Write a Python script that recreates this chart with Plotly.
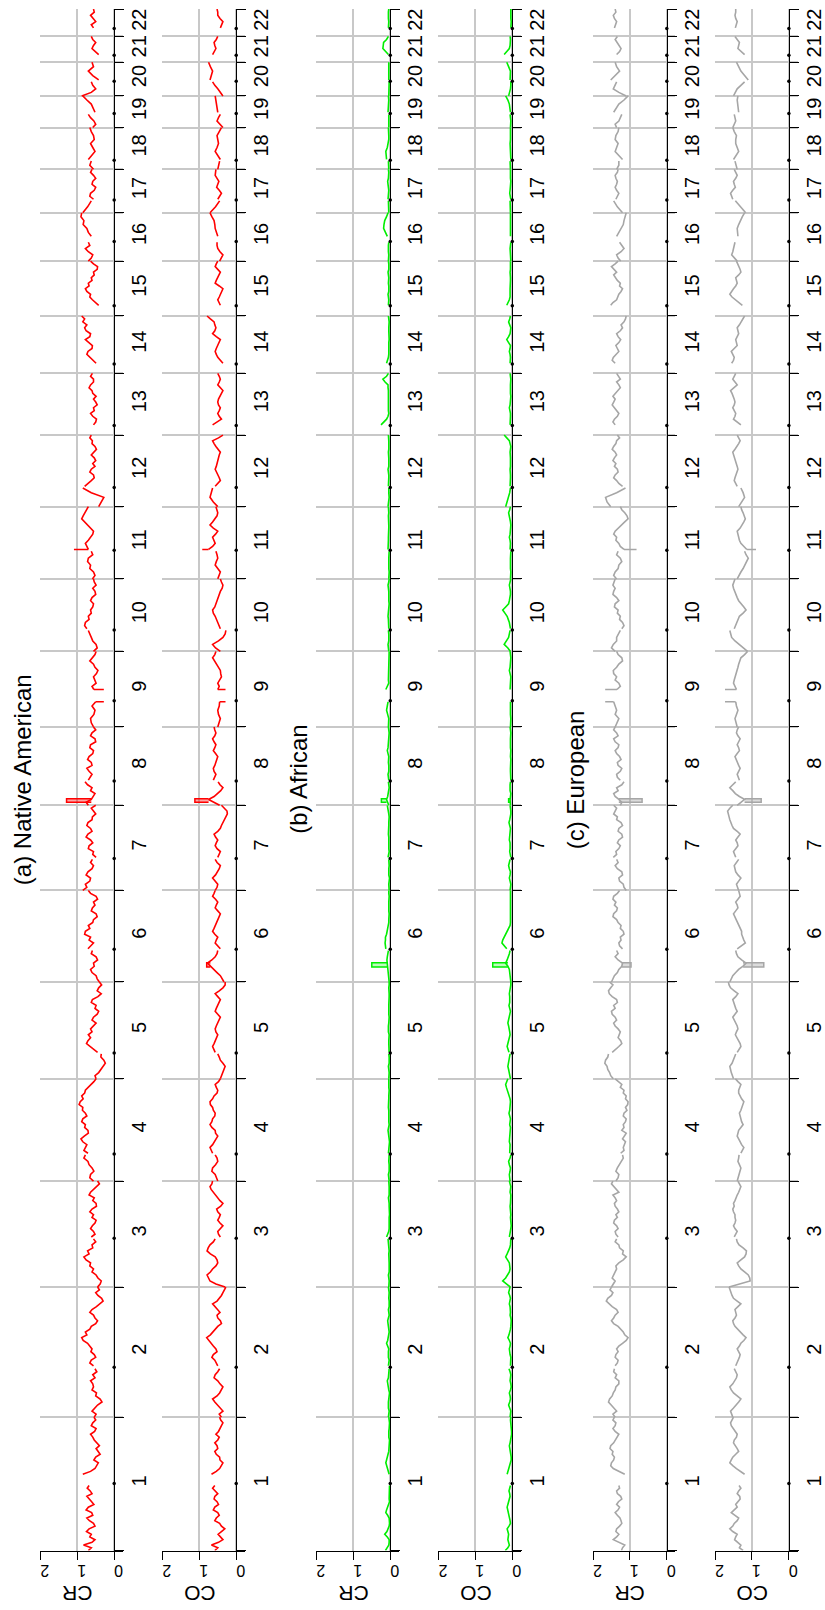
import numpy as np
import plotly.graph_objects as go

# ---------------------------------------------------------------- genome layout (hg19, Mb)
chrom_names = [str(i) for i in range(1, 23)]
chrom_len_mb = [249.25, 243.20, 198.02, 191.15, 180.92, 171.12, 159.14, 146.36, 141.21, 135.53, 135.01,
                133.85, 115.17, 107.35, 102.53, 90.35, 81.20, 78.08, 59.13, 63.03, 48.13, 51.30]
centromere_mb = [125.0, 93.3, 91.0, 50.4, 48.4, 61.0, 59.9, 45.6, 49.0, 40.2, 53.7,
                 35.8, 17.9, 17.6, 19.0, 36.6, 24.0, 17.2, 26.5, 27.5, 13.2, 14.7]
# uncovered stretch around each centromere (acrocentric arms start at gap_end)
gap_start_mb = [121.5, 90.5, 90.0, 49.0, 46.4, 58.8, 58.0, 43.8, 47.0, 39.2, 51.6,
                34.9, 0, 0, 0, 35.3, 22.3, 15.4, 24.6, 26.4, 0, 0]
gap_end_mb = [142.5, 96.0, 93.5, 52.0, 49.4, 62.0, 61.9, 46.9, 70.0, 42.4, 55.0,
              38.0, 19.0, 19.0, 20.0, 46.4, 25.3, 18.5, 28.6, 29.8, 14.3, 16.0]
# number of samples on the short arm of each chromosome
p_arm_points = [25, 17, 17, 9, 9, 11, 11, 9, 7, 7, 9, 5, 0, 0, 0, 7, 3, 3, 5, 5, 0, 0]

# ---------------------------------------------------------------- ancestry dosage per chromosome
na_cr = [
    [0.70, 0.62, 0.83, 0.60, 0.52, 0.66, 0.62, 0.75, 0.68, 0.52, 0.56, 0.67, 0.74, 0.58, 0.61, 0.76, 0.70, 0.55, 0.61, 0.69, 0.74, 0.60, 0.65, 0.73, 0.68,
     0.85, 0.64, 0.52, 0.47, 0.43, 0.55, 0.50, 0.38, 0.43, 0.49, 0.40, 0.48, 0.54, 0.58, 0.64, 0.53, 0.49, 0.62, 0.58, 0.50, 0.55],
    [0.54, 0.49, 0.60, 0.52, 0.45, 0.33, 0.38, 0.50, 0.48, 0.60, 0.56, 0.58, 0.64, 0.52, 0.58, 0.47, 0.52,
     0.56, 0.66, 0.62, 0.50, 0.54, 0.63, 0.60, 0.66, 0.72, 0.84, 0.88, 0.74, 0.78, 0.66, 0.62, 0.50, 0.45, 0.52, 0.56, 0.66, 0.60, 0.48, 0.40, 0.30, 0.34, 0.44, 0.50, 0.40, 0.45],
    [0.45, 0.38, 0.35, 0.44, 0.49, 0.60, 0.56, 0.66, 0.64, 0.76, 0.82, 0.68, 0.72, 0.58, 0.60, 0.50, 0.56,
     0.62, 0.52, 0.56, 0.64, 0.59, 0.52, 0.49, 0.60, 0.56, 0.66, 0.60, 0.48, 0.49, 0.58, 0.54, 0.68, 0.64, 0.55, 0.49, 0.40, 0.45],
    [0.56, 0.66, 0.64, 0.55, 0.60, 0.68, 0.71, 0.82, 0.78,
     0.71, 0.82, 0.78, 0.74, 0.85, 0.90, 0.81, 0.70, 0.71, 0.80, 0.78, 0.88, 0.85, 0.74, 0.78, 0.86, 0.85, 0.95, 0.92, 0.84, 0.88, 0.80, 0.78, 0.70, 0.64, 0.55, 0.49],
    [0.49, 0.52, 0.42, 0.36, 0.31, 0.24, 0.28, 0.36, 0.35,
     0.45, 0.56, 0.64, 0.75, 0.71, 0.64, 0.70, 0.60, 0.64, 0.56, 0.49, 0.60, 0.56, 0.46, 0.42, 0.52, 0.49, 0.62, 0.59, 0.44, 0.35, 0.46, 0.42, 0.34, 0.40],
    [0.40, 0.46, 0.49, 0.60, 0.64, 0.54, 0.56, 0.45, 0.49, 0.62, 0.59,
     0.71, 0.62, 0.56, 0.68, 0.64, 0.80, 0.78, 0.66, 0.70, 0.58, 0.56, 0.46, 0.49, 0.62, 0.59, 0.52, 0.56, 0.45, 0.49, 0.64, 0.70],
    [0.85, 0.74, 0.78, 0.66, 0.64, 0.76, 0.71, 0.60, 0.56, 0.64, 0.59,
     0.49, 0.58, 0.56, 0.70, 0.68, 0.58, 0.64, 0.76, 0.71, 0.60, 0.64, 0.74, 0.71, 0.60, 0.59, 0.50, 0.56, 0.62, 0.50],
    [0.70, 0.76, 0.62, 0.56, 0.52, 0.64, 0.60, 0.72, 0.79,
     0.70, 0.64, 0.60, 0.68, 0.74, 0.60, 0.62, 0.72, 0.68, 0.58, 0.56, 0.66, 0.64, 0.50, 0.52, 0.64, 0.60, 0.50, 0.56],
    [0.56, 0.62, 0.64, 0.55, 0.52, 0.60, 0.50,
     0.55, 0.60, 0.49, 0.52, 0.56, 0.48, 0.44, 0.52, 0.56, 0.66, 0.60, 0.52, 0.49],
    [0.56, 0.46, 0.49, 0.58, 0.62, 0.66, 0.70,
     0.74, 0.80, 0.78, 0.68, 0.70, 0.62, 0.64, 0.58, 0.56, 0.64, 0.60, 0.50, 0.52, 0.58, 0.49, 0.54, 0.56],
    [0.59, 0.52, 0.56, 0.66, 0.64, 0.72, 0.70, 0.58, 0.62,
     0.70, 0.74, 0.78, 0.70, 0.64, 0.58, 0.56, 0.64, 0.70, 0.80, 0.88, 0.84, 0.80, 0.74, 0.70],
    [0.42, 0.36, 0.28, 0.62, 0.85,
     0.80, 0.70, 0.62, 0.54, 0.56, 0.66, 0.62, 0.52, 0.58, 0.50, 0.54, 0.62, 0.56, 0.48, 0.52, 0.60, 0.59, 0.66, 0.62],
    [0.56, 0.50, 0.48, 0.58, 0.64, 0.54, 0.56, 0.46, 0.50, 0.56, 0.49, 0.58, 0.60, 0.68, 0.64, 0.56, 0.56, 0.64, 0.59],
    [0.49, 0.58, 0.64, 0.74, 0.71, 0.60, 0.59, 0.70, 0.78, 0.66, 0.64, 0.76, 0.80, 0.74, 0.85, 0.80, 0.88],
    [0.42, 0.52, 0.59, 0.66, 0.64, 0.74, 0.78, 0.68, 0.70, 0.60, 0.62, 0.54, 0.56, 0.46, 0.45, 0.56, 0.64],
    [0.70, 0.62, 0.58, 0.70, 0.78, 0.66, 0.70, 0.62, 0.70, 0.74, 0.84, 0.82, 0.90, 0.88],
    [0.85, 0.72, 0.62, 0.56, 0.66, 0.64, 0.54, 0.50, 0.60, 0.58, 0.50, 0.56, 0.64, 0.60],
    [0.56, 0.66, 0.62, 0.70, 0.60, 0.52, 0.58, 0.64, 0.54, 0.56, 0.62, 0.66],
    [0.58, 0.50, 0.55, 0.64, 0.70, 0.52, 0.58, 0.62, 0.74, 0.85],
    [0.88, 0.62, 0.50, 0.58, 0.62, 0.42, 0.58, 0.70, 0.56, 0.60],
    [0.42, 0.52, 0.60, 0.56, 0.50, 0.58, 0.62],
    [0.56, 0.62, 0.50, 0.58, 0.64, 0.54, 0.56],
]
na_co = [
    [0.58, 0.50, 0.67, 0.48, 0.36, 0.44, 0.49, 0.40, 0.31, 0.40, 0.45, 0.58, 0.54, 0.46, 0.50, 0.62, 0.58, 0.48, 0.52, 0.60, 0.58, 0.50, 0.56, 0.64, 0.58,
     0.67, 0.54, 0.45, 0.40, 0.36, 0.44, 0.45, 0.54, 0.58, 0.50, 0.52, 0.58, 0.50, 0.46, 0.55, 0.48, 0.43, 0.40, 0.36, 0.42, 0.45],
    [0.40, 0.46, 0.36, 0.44, 0.50, 0.58, 0.64, 0.52, 0.45, 0.40, 0.36, 0.44, 0.50, 0.60, 0.57, 0.50, 0.45,
     0.50, 0.54, 0.58, 0.66, 0.62, 0.52, 0.55, 0.62, 0.68, 0.76, 0.80, 0.70, 0.64, 0.56, 0.50, 0.40, 0.43, 0.50, 0.52, 0.44, 0.50, 0.58, 0.64, 0.52, 0.45, 0.40, 0.36, 0.32, 0.28],
    [0.30, 0.55, 0.71, 0.76, 0.79, 0.70, 0.64, 0.55, 0.50, 0.52, 0.57, 0.70, 0.79, 0.76, 0.71, 0.62, 0.57,
     0.43, 0.48, 0.50, 0.42, 0.36, 0.44, 0.50, 0.46, 0.43, 0.50, 0.53, 0.42, 0.36, 0.44, 0.50, 0.58, 0.64, 0.68, 0.71, 0.66, 0.64],
    [0.50, 0.54, 0.57, 0.66, 0.64, 0.56, 0.50, 0.52, 0.57,
     0.64, 0.68, 0.71, 0.64, 0.60, 0.54, 0.50, 0.56, 0.57, 0.66, 0.71, 0.66, 0.64, 0.58, 0.57, 0.62, 0.64, 0.70, 0.71, 0.64, 0.60, 0.52, 0.50, 0.54, 0.57, 0.48, 0.43],
    [0.43, 0.40, 0.36, 0.32, 0.30, 0.36, 0.43, 0.46, 0.50,
     0.57, 0.60, 0.64, 0.60, 0.57, 0.52, 0.50, 0.55, 0.57, 0.54, 0.50, 0.46, 0.43, 0.50, 0.57, 0.54, 0.50, 0.46, 0.43, 0.50, 0.57, 0.46, 0.36, 0.30, 0.30],
    [0.33, 0.38, 0.43, 0.52, 0.60, 0.70, 0.78, 0.66, 0.57, 0.52, 0.50,
     0.43, 0.50, 0.57, 0.54, 0.50, 0.58, 0.64, 0.60, 0.57, 0.52, 0.50, 0.46, 0.43, 0.50, 0.57, 0.54, 0.50, 0.56, 0.64, 0.60, 0.57],
    [0.57, 0.52, 0.50, 0.58, 0.64, 0.56, 0.50, 0.46, 0.43, 0.52, 0.57,
     0.50, 0.46, 0.43, 0.52, 0.57, 0.54, 0.50, 0.56, 0.60, 0.50, 0.43, 0.40, 0.36, 0.32, 0.29, 0.24, 0.25, 0.32, 0.40],
    [0.45, 0.62, 0.75, 0.60, 0.50, 0.42, 0.36, 0.44, 0.49,
     0.62, 0.58, 0.55, 0.60, 0.62, 0.58, 0.56, 0.52, 0.50, 0.56, 0.62, 0.58, 0.55, 0.60, 0.64, 0.58, 0.55, 0.58, 0.60],
    [0.50, 0.46, 0.43, 0.48, 0.50, 0.46, 0.45,
     0.50, 0.46, 0.50, 0.44, 0.40, 0.42, 0.43, 0.48, 0.53, 0.60, 0.64, 0.58, 0.55],
    [0.43, 0.56, 0.64, 0.48, 0.36, 0.30, 0.28,
     0.43, 0.46, 0.50, 0.54, 0.57, 0.62, 0.64, 0.58, 0.55, 0.52, 0.50, 0.46, 0.43, 0.38, 0.36, 0.40, 0.43],
    [0.50, 0.46, 0.43, 0.50, 0.57, 0.54, 0.50, 0.52, 0.55,
     0.75, 0.64, 0.57, 0.60, 0.64, 0.56, 0.50, 0.62, 0.71, 0.64, 0.57, 0.52, 0.50, 0.52, 0.55],
    [0.50, 0.62, 0.71, 0.68, 0.64,
     0.57, 0.50, 0.43, 0.46, 0.50, 0.54, 0.57, 0.54, 0.52, 0.50, 0.50, 0.46, 0.43, 0.50, 0.55, 0.60, 0.64, 0.48, 0.36],
    [0.64, 0.50, 0.40, 0.46, 0.50, 0.46, 0.43, 0.48, 0.50, 0.48, 0.45, 0.40, 0.36, 0.44, 0.50, 0.46, 0.43, 0.46, 0.50],
    [0.36, 0.44, 0.50, 0.54, 0.57, 0.54, 0.50, 0.46, 0.43, 0.54, 0.64, 0.58, 0.55, 0.58, 0.60, 0.70, 0.79],
    [0.43, 0.46, 0.50, 0.46, 0.43, 0.40, 0.36, 0.46, 0.57, 0.54, 0.50, 0.46, 0.43, 0.50, 0.57, 0.54, 0.50],
    [0.45, 0.40, 0.36, 0.44, 0.50, 0.52, 0.52, 0.50, 0.54, 0.57, 0.58, 0.60, 0.66, 0.71],
    [0.71, 0.56, 0.45, 0.50, 0.44, 0.40, 0.46, 0.53, 0.50, 0.47, 0.52, 0.57, 0.56, 0.55],
    [0.50, 0.48, 0.45, 0.43, 0.50, 0.57, 0.52, 0.48, 0.50, 0.52, 0.46, 0.40],
    [0.36, 0.44, 0.52, 0.48, 0.43, 0.50, 0.52, 0.55, 0.56, 0.57],
    [0.36, 0.42, 0.50, 0.58, 0.64, 0.71, 0.68, 0.64, 0.70, 0.75],
    [0.64, 0.60, 0.55, 0.58, 0.60, 0.54, 0.50],
    [0.43, 0.40, 0.36, 0.44, 0.50, 0.50, 0.52],
]
af_cr = [
    [0.13, 0.08, 0.04, 0.03, 0.03, 0.08, 0.15, 0.09, 0.05, 0.03, 0.02, 0.03, 0.03, 0.07, 0.12, 0.10, 0.08, 0.04, 0.02, 0.03, 0.03, 0.02, 0.02, 0.03, 0.02,
     0.03, 0.05, 0.07, 0.10, 0.12, 0.10, 0.09, 0.06, 0.04, 0.03, 0.03, 0.02, 0.02, 0.04, 0.05, 0.04, 0.03, 0.02, 0.02, 0.03, 0.04],
    [0.05, 0.04, 0.03, 0.05, 0.06, 0.05, 0.04, 0.03, 0.02, 0.04, 0.05, 0.07, 0.08, 0.05, 0.04, 0.03, 0.03,
     0.05, 0.04, 0.03, 0.05, 0.06, 0.05, 0.04, 0.07, 0.10, 0.07, 0.05, 0.04, 0.03, 0.04, 0.04, 0.06, 0.07, 0.05, 0.03, 0.04, 0.05, 0.03, 0.02, 0.03, 0.04, 0.03, 0.03, 0.04, 0.05],
    [0.04, 0.03, 0.03, 0.04, 0.05, 0.03, 0.02, 0.03, 0.03, 0.04, 0.05, 0.04, 0.03, 0.04, 0.04, 0.05, 0.06,
     0.10, 0.06, 0.04, 0.03, 0.03, 0.04, 0.05, 0.03, 0.02, 0.03, 0.04, 0.03, 0.03, 0.04, 0.05, 0.03, 0.02, 0.03, 0.03, 0.04, 0.04],
    [0.03, 0.04, 0.05, 0.03, 0.02, 0.03, 0.04, 0.03, 0.03,
     0.05, 0.04, 0.04, 0.03, 0.02, 0.03, 0.03, 0.05, 0.06, 0.04, 0.03, 0.04, 0.04, 0.03, 0.02, 0.04, 0.05, 0.04, 0.03, 0.04, 0.04, 0.03, 0.03, 0.04, 0.05, 0.04, 0.04],
    [0.04, 0.03, 0.03, 0.04, 0.05, 0.03, 0.02, 0.03, 0.04,
     0.03, 0.04, 0.05, 0.04, 0.04, 0.03, 0.03, 0.05, 0.06, 0.05, 0.04, 0.03, 0.03, 0.04, 0.05, 0.04, 0.04, 0.03, 0.02, 0.03, 0.03, 0.04, 0.04, 0.03, 0.03],
    [0.03, 0.04, 0.04, 0.05, 0.06, 0.08, 0.10, 0.09, 0.08, 0.06, 0.05,
     0.12, 0.14, 0.14, 0.13, 0.13, 0.10, 0.08, 0.06, 0.05, 0.04, 0.04, 0.03, 0.03, 0.04, 0.05, 0.04, 0.04, 0.03, 0.03, 0.04, 0.04],
    [0.03, 0.04, 0.04, 0.03, 0.02, 0.04, 0.05, 0.04, 0.03, 0.04, 0.04,
     0.06, 0.04, 0.03, 0.04, 0.04, 0.03, 0.02, 0.04, 0.05, 0.04, 0.03, 0.04, 0.04, 0.03, 0.03, 0.04, 0.05, 0.07, 0.08],
    [0.04, 0.07, 0.10, 0.07, 0.05, 0.04, 0.03, 0.04, 0.05,
     0.04, 0.05, 0.06, 0.04, 0.03, 0.04, 0.05, 0.04, 0.04, 0.06, 0.08, 0.06, 0.05, 0.04, 0.04, 0.03, 0.03, 0.04, 0.05],
    [0.05, 0.04, 0.04, 0.07, 0.10, 0.08, 0.06,
     0.12, 0.07, 0.04, 0.05, 0.05, 0.04, 0.03, 0.04, 0.04, 0.05, 0.05, 0.04, 0.03],
    [0.04, 0.05, 0.06, 0.04, 0.03, 0.04, 0.05,
     0.04, 0.04, 0.03, 0.05, 0.06, 0.05, 0.04, 0.03, 0.03, 0.04, 0.05, 0.04, 0.04, 0.05, 0.06, 0.04, 0.03],
    [0.04, 0.03, 0.03, 0.04, 0.05, 0.04, 0.04, 0.03, 0.03,
     0.06, 0.05, 0.04, 0.05, 0.05, 0.04, 0.03, 0.04, 0.04, 0.05, 0.06, 0.05, 0.04, 0.05, 0.05],
    [0.06, 0.04, 0.03, 0.04, 0.04,
     0.05, 0.04, 0.03, 0.04, 0.04, 0.05, 0.06, 0.04, 0.03, 0.04, 0.04, 0.05, 0.05, 0.04, 0.03, 0.04, 0.04, 0.05, 0.05],
    [0.25, 0.18, 0.10, 0.06, 0.04, 0.05, 0.05, 0.04, 0.03, 0.04, 0.04, 0.05, 0.05, 0.06, 0.06, 0.14, 0.20, 0.10, 0.05],
    [0.10, 0.07, 0.05, 0.04, 0.04, 0.05, 0.06, 0.04, 0.03, 0.04, 0.05, 0.04, 0.04, 0.03, 0.03, 0.04, 0.05],
    [0.05, 0.04, 0.04, 0.05, 0.06, 0.04, 0.03, 0.04, 0.05, 0.04, 0.04, 0.05, 0.06, 0.04, 0.03, 0.04, 0.05],
    [0.05, 0.04, 0.04, 0.05, 0.06, 0.05, 0.04, 0.08, 0.14, 0.18, 0.17, 0.15, 0.10, 0.06],
    [0.04, 0.05, 0.05, 0.06, 0.05, 0.04, 0.04, 0.05, 0.06, 0.07, 0.05, 0.04, 0.04, 0.05],
    [0.04, 0.04, 0.05, 0.10, 0.11, 0.12, 0.08, 0.05, 0.04, 0.04, 0.04, 0.05],
    [0.04, 0.04, 0.05, 0.04, 0.04, 0.06, 0.05, 0.04, 0.04, 0.05],
    [0.04, 0.04, 0.05, 0.04, 0.03, 0.04, 0.04, 0.05, 0.04, 0.04],
    [0.05, 0.12, 0.20, 0.19, 0.18, 0.10, 0.05],
    [0.05, 0.04, 0.04, 0.05, 0.06, 0.05, 0.04],
]
af_co = [
    [0.19, 0.12, 0.08, 0.10, 0.12, 0.11, 0.10, 0.12, 0.14, 0.09, 0.05, 0.06, 0.08, 0.09, 0.10, 0.12, 0.14, 0.12, 0.10, 0.08, 0.06, 0.07, 0.09, 0.07, 0.05,
     0.14, 0.12, 0.10, 0.06, 0.04, 0.03, 0.03, 0.04, 0.05, 0.06, 0.08, 0.06, 0.04, 0.03, 0.02, 0.02, 0.03, 0.04, 0.06, 0.05, 0.04],
    [0.06, 0.05, 0.04, 0.07, 0.10, 0.07, 0.05, 0.06, 0.08, 0.05, 0.03, 0.04, 0.06, 0.05, 0.04, 0.06, 0.09,
     0.05, 0.04, 0.03, 0.04, 0.06, 0.07, 0.08, 0.06, 0.05, 0.08, 0.12, 0.09, 0.06, 0.05, 0.04, 0.03, 0.03, 0.04, 0.06, 0.05, 0.05, 0.06, 0.08, 0.06, 0.05, 0.07, 0.10, 0.08, 0.06],
    [0.05, 0.15, 0.26, 0.18, 0.12, 0.08, 0.06, 0.07, 0.08, 0.13, 0.18, 0.14, 0.10, 0.07, 0.05, 0.04, 0.04,
     0.08, 0.06, 0.05, 0.04, 0.03, 0.04, 0.06, 0.05, 0.04, 0.05, 0.07, 0.06, 0.05, 0.04, 0.03, 0.04, 0.06, 0.05, 0.04, 0.06, 0.08],
    [0.06, 0.07, 0.08, 0.06, 0.05, 0.08, 0.10, 0.06, 0.04,
     0.07, 0.06, 0.05, 0.06, 0.08, 0.07, 0.06, 0.05, 0.04, 0.05, 0.07, 0.06, 0.05, 0.07, 0.09, 0.07, 0.06, 0.05, 0.05, 0.06, 0.08, 0.11, 0.14, 0.16, 0.18, 0.15, 0.12],
    [0.05, 0.06, 0.08, 0.10, 0.12, 0.11, 0.10, 0.08, 0.06,
     0.09, 0.12, 0.14, 0.12, 0.10, 0.08, 0.06, 0.07, 0.08, 0.10, 0.12, 0.10, 0.07, 0.06, 0.05, 0.07, 0.09, 0.07, 0.06, 0.07, 0.08, 0.06, 0.05, 0.04, 0.04],
    [0.04, 0.05, 0.06, 0.07, 0.08, 0.12, 0.18, 0.14, 0.10, 0.08, 0.06,
     0.15, 0.22, 0.28, 0.26, 0.22, 0.16, 0.12, 0.08, 0.06, 0.05, 0.05, 0.04, 0.04, 0.05, 0.06, 0.05, 0.05, 0.04, 0.04, 0.05, 0.05],
    [0.06, 0.05, 0.04, 0.06, 0.08, 0.06, 0.05, 0.08, 0.10, 0.08, 0.06,
     0.04, 0.06, 0.07, 0.06, 0.05, 0.06, 0.08, 0.07, 0.06, 0.05, 0.05, 0.07, 0.09, 0.07, 0.05, 0.04, 0.04, 0.05, 0.06],
    [0.05, 0.06, 0.06, 0.05, 0.04, 0.06, 0.07, 0.06, 0.05,
     0.04, 0.05, 0.06, 0.05, 0.05, 0.04, 0.03, 0.04, 0.05, 0.04, 0.04, 0.05, 0.06, 0.05, 0.05, 0.04, 0.04, 0.05, 0.06],
    [0.05, 0.04, 0.04, 0.05, 0.06, 0.05, 0.05,
     0.06, 0.05, 0.05, 0.04, 0.04, 0.06, 0.08, 0.06, 0.05, 0.04, 0.04, 0.05, 0.06],
    [0.05, 0.12, 0.22, 0.16, 0.10, 0.08, 0.06,
     0.05, 0.06, 0.08, 0.11, 0.14, 0.20, 0.26, 0.18, 0.10, 0.08, 0.06, 0.05, 0.05, 0.06, 0.08, 0.06, 0.04],
    [0.05, 0.04, 0.04, 0.05, 0.06, 0.05, 0.05, 0.04, 0.04,
     0.06, 0.05, 0.05, 0.06, 0.08, 0.06, 0.05, 0.04, 0.04, 0.05, 0.06, 0.08, 0.10, 0.07, 0.05],
    [0.18, 0.14, 0.10, 0.07, 0.05,
     0.06, 0.05, 0.04, 0.05, 0.05, 0.06, 0.06, 0.05, 0.04, 0.05, 0.05, 0.06, 0.06, 0.05, 0.04, 0.06, 0.08, 0.15, 0.22],
    [0.06, 0.05, 0.04, 0.05, 0.05, 0.07, 0.08, 0.06, 0.05, 0.04, 0.04, 0.05, 0.06, 0.05, 0.05, 0.04, 0.04, 0.05, 0.06],
    [0.06, 0.05, 0.05, 0.06, 0.08, 0.06, 0.05, 0.10, 0.15, 0.10, 0.06, 0.05, 0.04, 0.07, 0.10, 0.07, 0.05],
    [0.15, 0.11, 0.08, 0.06, 0.05, 0.06, 0.06, 0.05, 0.04, 0.05, 0.05, 0.06, 0.06, 0.05, 0.04, 0.05, 0.05],
    [0.04, 0.05, 0.05, 0.06, 0.06, 0.05, 0.04, 0.05, 0.05, 0.06, 0.05, 0.04, 0.05, 0.05],
    [0.05, 0.06, 0.06, 0.04, 0.06, 0.07, 0.06, 0.05, 0.04, 0.04, 0.05, 0.06, 0.05, 0.05],
    [0.05, 0.06, 0.06, 0.04, 0.05, 0.05, 0.06, 0.06, 0.05, 0.04, 0.05, 0.05],
    [0.05, 0.04, 0.04, 0.05, 0.06, 0.05, 0.06, 0.08, 0.12, 0.18],
    [0.10, 0.07, 0.05, 0.04, 0.04, 0.06, 0.05, 0.05, 0.10, 0.15],
    [0.22, 0.14, 0.08, 0.06, 0.05, 0.05, 0.06],
    [0.04, 0.03, 0.03, 0.04, 0.05, 0.04, 0.04],
]
eu_cr = [
    [1.23, 1.20, 1.14, 1.30, 1.45, 1.36, 1.30, 1.38, 1.36, 1.28, 1.22, 1.24, 1.27, 1.34, 1.40, 1.32, 1.28, 1.36, 1.31, 1.22, 1.25, 1.34, 1.36, 1.28, 1.30,
     1.14, 1.32, 1.45, 1.52, 1.50, 1.44, 1.42, 1.48, 1.46, 1.54, 1.52, 1.44, 1.40, 1.34, 1.30, 1.40, 1.46, 1.40, 1.38, 1.46, 1.42],
    [1.40, 1.46, 1.36, 1.44, 1.50, 1.58, 1.55, 1.48, 1.45, 1.40, 1.38, 1.30, 1.30, 1.40, 1.36, 1.44, 1.42,
     1.40, 1.34, 1.32, 1.40, 1.38, 1.32, 1.36, 1.30, 1.20, 1.10, 1.05, 1.14, 1.18, 1.26, 1.32, 1.44, 1.50, 1.44, 1.40, 1.32, 1.36, 1.48, 1.55, 1.64, 1.60, 1.50, 1.46, 1.54, 1.50],
    [1.50, 1.44, 1.40, 1.48, 1.45, 1.40, 1.36, 1.38, 1.30, 1.18, 1.10, 1.20, 1.18, 1.28, 1.30, 1.40, 1.36,
     1.32, 1.38, 1.40, 1.32, 1.36, 1.44, 1.42, 1.34, 1.38, 1.30, 1.34, 1.40, 1.42, 1.36, 1.40, 1.46, 1.30, 1.36, 1.44, 1.50, 1.46],
    [1.38, 1.32, 1.30, 1.38, 1.34, 1.28, 1.24, 1.18, 1.20,
     1.25, 1.16, 1.18, 1.14, 1.12, 1.20, 1.15, 1.10, 1.22, 1.16, 1.18, 1.12, 1.10, 1.18, 1.16, 1.08, 1.12, 1.06, 1.05, 1.12, 1.10, 1.18, 1.16, 1.26, 1.22, 1.32, 1.40],
    [1.45, 1.52, 1.55, 1.60, 1.62, 1.68, 1.66, 1.60, 1.58,
     1.48, 1.38, 1.30, 1.22, 1.25, 1.32, 1.28, 1.26, 1.32, 1.40, 1.44, 1.36, 1.40, 1.48, 1.50, 1.40, 1.44, 1.34, 1.36, 1.48, 1.56, 1.58, 1.52, 1.46, 1.55],
    [1.50, 1.46, 1.42, 1.34, 1.30, 1.22, 1.20, 1.32, 1.40, 1.32, 1.36,
     1.20, 1.28, 1.30, 1.24, 1.26, 1.16, 1.18, 1.26, 1.24, 1.32, 1.36, 1.46, 1.44, 1.36, 1.34, 1.42, 1.38, 1.46, 1.44, 1.34, 1.28],
    [1.10, 1.16, 1.18, 1.28, 1.30, 1.20, 1.22, 1.34, 1.40, 1.32, 1.36,
     1.45, 1.36, 1.38, 1.30, 1.26, 1.34, 1.30, 1.20, 1.22, 1.32, 1.30, 1.20, 1.24, 1.36, 1.34, 1.44, 1.40, 1.36, 1.44],
    [1.26, 1.22, 1.30, 1.40, 1.44, 1.32, 1.36, 1.22, 1.16,
     1.26, 1.34, 1.36, 1.26, 1.22, 1.32, 1.34, 1.24, 1.28, 1.36, 1.40, 1.32, 1.30, 1.40, 1.44, 1.32, 1.36, 1.44, 1.40],
    [1.40, 1.34, 1.30, 1.40, 1.36, 1.40, 1.44,
     1.35, 1.26, 1.30, 1.40, 1.36, 1.44, 1.45, 1.36, 1.30, 1.20, 1.22, 1.32, 1.36],
    [1.40, 1.50, 1.45, 1.36, 1.36, 1.30, 1.26,
     1.22, 1.16, 1.20, 1.28, 1.26, 1.34, 1.32, 1.42, 1.40, 1.30, 1.36, 1.46, 1.44, 1.40, 1.46, 1.42, 1.40],
    [1.36, 1.44, 1.40, 1.32, 1.30, 1.22, 1.26, 1.36, 1.32,
     1.16, 1.26, 1.30, 1.38, 1.36, 1.44, 1.40, 1.32, 1.24, 1.14, 1.05, 1.08, 1.14, 1.22, 1.26],
    [1.52, 1.62, 1.66, 1.36, 1.12,
     1.20, 1.30, 1.36, 1.44, 1.40, 1.32, 1.34, 1.42, 1.38, 1.46, 1.42, 1.36, 1.40, 1.48, 1.44, 1.38, 1.36, 1.28, 1.34],
    [1.40, 1.46, 1.42, 1.34, 1.30, 1.36, 1.40, 1.48, 1.44, 1.40, 1.46, 1.40, 1.34, 1.26, 1.30, 1.36, 1.26, 1.32, 1.36],
    [1.40, 1.48, 1.45, 1.36, 1.30, 1.34, 1.38, 1.30, 1.25, 1.32, 1.36, 1.26, 1.20, 1.24, 1.16, 1.12, 1.10],
    [1.52, 1.46, 1.36, 1.34, 1.30, 1.24, 1.20, 1.28, 1.26, 1.34, 1.40, 1.44, 1.36, 1.44, 1.50, 1.40, 1.32],
    [1.25, 1.32, 1.36, 1.24, 1.16, 1.22, 1.28, 1.36, 1.30, 1.22, 1.18, 1.16, 1.14, 1.10],
    [1.20, 1.34, 1.44, 1.38, 1.34, 1.30, 1.36, 1.40, 1.36, 1.34, 1.38, 1.40, 1.34, 1.32],
    [1.36, 1.30, 1.30, 1.20, 1.30, 1.40, 1.36, 1.32, 1.40, 1.38, 1.32, 1.30],
    [1.36, 1.40, 1.30, 1.26, 1.22, 1.44, 1.36, 1.30, 1.16, 1.05],
    [1.10, 1.30, 1.45, 1.40, 1.36, 1.52, 1.40, 1.28, 1.36, 1.40],
    [1.36, 1.28, 1.24, 1.30, 1.36, 1.40, 1.34],
    [1.42, 1.38, 1.36, 1.42, 1.45, 1.38, 1.40],
]
eu_co = [
    [1.24, 1.34, 1.30, 1.40, 1.47, 1.44, 1.40, 1.52, 1.60, 1.52, 1.48, 1.40, 1.36, 1.46, 1.56, 1.48, 1.40, 1.44, 1.38, 1.32, 1.33, 1.40, 1.36, 1.30, 1.35,
     1.20, 1.32, 1.42, 1.52, 1.60, 1.56, 1.52, 1.44, 1.36, 1.40, 1.44, 1.50, 1.48, 1.42, 1.40, 1.46, 1.52, 1.56, 1.58, 1.54, 1.50],
    [1.52, 1.56, 1.58, 1.50, 1.42, 1.36, 1.30, 1.40, 1.50, 1.56, 1.60, 1.52, 1.46, 1.42, 1.40, 1.44, 1.48,
     1.44, 1.40, 1.38, 1.34, 1.32, 1.36, 1.40, 1.34, 1.30, 1.22, 1.16, 1.24, 1.32, 1.40, 1.46, 1.50, 1.52, 1.46, 1.42, 1.44, 1.46, 1.38, 1.30, 1.40, 1.50, 1.54, 1.56, 1.60, 1.62],
    [1.62, 1.30, 1.05, 1.06, 1.10, 1.20, 1.30, 1.36, 1.40, 1.30, 1.20, 1.16, 1.15, 1.24, 1.35, 1.40, 1.42,
     1.48, 1.44, 1.40, 1.46, 1.50, 1.46, 1.44, 1.46, 1.46, 1.50, 1.52, 1.48, 1.50, 1.46, 1.44, 1.40, 1.36, 1.32, 1.30, 1.34, 1.38],
    [1.40, 1.38, 1.36, 1.32, 1.30, 1.34, 1.38, 1.36, 1.35,
     1.30, 1.26, 1.22, 1.28, 1.32, 1.36, 1.40, 1.38, 1.36, 1.30, 1.24, 1.28, 1.30, 1.32, 1.34, 1.30, 1.28, 1.24, 1.22, 1.28, 1.32, 1.36, 1.36, 1.32, 1.30, 1.38, 1.45],
    [1.50, 1.54, 1.56, 1.58, 1.60, 1.54, 1.50, 1.46, 1.44,
     1.40, 1.34, 1.30, 1.32, 1.36, 1.40, 1.45, 1.42, 1.38, 1.40, 1.44, 1.48, 1.52, 1.46, 1.40, 1.44, 1.46, 1.50, 1.52, 1.44, 1.38, 1.48, 1.58, 1.62, 1.64],
    [1.60, 1.56, 1.52, 1.44, 1.36, 1.24, 1.16, 1.28, 1.38, 1.42, 1.44,
     1.40, 1.30, 1.18, 1.22, 1.26, 1.28, 1.28, 1.32, 1.36, 1.40, 1.44, 1.48, 1.50, 1.44, 1.38, 1.40, 1.44, 1.38, 1.32, 1.34, 1.36],
    [1.36, 1.40, 1.42, 1.36, 1.30, 1.38, 1.44, 1.46, 1.48, 1.42, 1.36,
     1.44, 1.48, 1.50, 1.44, 1.38, 1.40, 1.44, 1.38, 1.32, 1.40, 1.50, 1.54, 1.58, 1.60, 1.62, 1.64, 1.66, 1.60, 1.52],
    [1.40, 1.30, 1.20, 1.34, 1.45, 1.52, 1.60, 1.52, 1.44,
     1.34, 1.36, 1.40, 1.36, 1.32, 1.36, 1.40, 1.44, 1.46, 1.40, 1.34, 1.36, 1.40, 1.36, 1.32, 1.38, 1.42, 1.40, 1.36],
    [1.40, 1.44, 1.46, 1.42, 1.38, 1.42, 1.44,
     1.42, 1.46, 1.50, 1.48, 1.45, 1.42, 1.40, 1.38, 1.36, 1.32, 1.30, 1.20, 1.12],
    [1.12, 1.24, 1.36, 1.46, 1.55, 1.58, 1.60,
     1.48, 1.44, 1.42, 1.38, 1.34, 1.24, 1.16, 1.22, 1.30, 1.36, 1.40, 1.44, 1.48, 1.50, 1.52, 1.48, 1.46],
    [1.40, 1.36, 1.30, 1.24, 1.20, 1.14, 1.10, 1.16, 1.20,
     1.14, 1.22, 1.30, 1.34, 1.36, 1.40, 1.40, 1.32, 1.26, 1.22, 1.18, 1.20, 1.24, 1.28, 1.30],
    [1.36, 1.28, 1.20, 1.24, 1.30,
     1.40, 1.44, 1.48, 1.46, 1.44, 1.40, 1.38, 1.40, 1.42, 1.44, 1.46, 1.50, 1.52, 1.46, 1.40, 1.36, 1.32, 1.36, 1.40],
    [1.30, 1.40, 1.50, 1.46, 1.44, 1.48, 1.52, 1.48, 1.46, 1.48, 1.50, 1.54, 1.58, 1.48, 1.40, 1.46, 1.52, 1.48, 1.44],
    [1.55, 1.50, 1.48, 1.52, 1.56, 1.48, 1.40, 1.42, 1.44, 1.40, 1.36, 1.38, 1.40, 1.34, 1.30, 1.24, 1.20],
    [1.26, 1.36, 1.45, 1.54, 1.60, 1.56, 1.50, 1.44, 1.40, 1.42, 1.44, 1.36, 1.30, 1.32, 1.36, 1.40, 1.42],
    [1.40, 1.48, 1.55, 1.52, 1.50, 1.48, 1.46, 1.38, 1.40, 1.40, 1.36, 1.32, 1.26, 1.20],
    [1.17, 1.32, 1.45, 1.52, 1.56, 1.58, 1.52, 1.45, 1.48, 1.50, 1.44, 1.40, 1.44, 1.48],
    [1.40, 1.44, 1.46, 1.50, 1.44, 1.36, 1.40, 1.44, 1.44, 1.42, 1.48, 1.52],
    [1.52, 1.48, 1.44, 1.46, 1.48, 1.36, 1.38, 1.40, 1.40, 1.38],
    [1.50, 1.44, 1.40, 1.30, 1.20, 1.10, 1.20, 1.30, 1.36, 1.42],
    [1.20, 1.30, 1.38, 1.36, 1.34, 1.40, 1.46],
    [1.45, 1.42, 1.40, 1.44, 1.46, 1.44, 1.44],
]

# narrow excursions (8p23, HLA, 11p11 and the 9q12 gap edges): chromosome, span, peak per series
spike_chrom = [8, 6, 11, 9, 9]
spike_from_mb = [5.6, 28.0, 55.0, 47.0, 70.0]
spike_to_mb = [12.3, 36.0, 55.0, 47.0, 70.0]
na_cr_spike = [1.29, None, 1.09, 0.28, 0.28]
na_co_spike = [1.12, 0.80, 0.92, 0.29, 0.29]
af_cr_spike = [0.24, 0.50, None, None, None]
af_co_spike = [0.10, 0.53, None, None, None]
eu_cr_spike = [0.67, 0.97, 0.82, 1.67, 1.67]
eu_co_spike = [0.75, 0.68, 0.89, 1.73, 1.73]

# ---------------------------------------------------------------- geometry helpers
W, H = 825, 1610
offsets = np.concatenate([[0.0], np.cumsum(chrom_len_mb)])
total_mb = float(offsets[-1])
mids = [(offsets[i] + offsets[i + 1]) / 2 for i in range(22)]
centro_pos = [offsets[i] + centromere_mb[i] for i in range(22)]


def arm_positions(ci, n):
    n_p = min(p_arm_points[ci], n - 2) if p_arm_points[ci] else 0
    arms = []
    if n_p:
        arms.append(np.linspace(0.0, gap_start_mb[ci], n_p))
    arms.append(np.linspace(gap_end_mb[ci], chrom_len_mb[ci], n - n_p))
    return arms


def build_line(series):
    xs, ys = [], []
    for ci, vals in enumerate(series):
        k = 0
        for arm in arm_positions(ci, len(vals)):
            for p in arm:
                xs.append(vals[k])
                ys.append(offsets[ci] + p)
                k += 1
            xs.append(None)
            ys.append(None)
    return xs, ys


def nearest_value(series, ci, mb):
    allpos = np.concatenate(arm_positions(ci, len(series[ci])))
    return series[ci][int(np.argmin(np.abs(allpos - mb)))]


def build_spikes(series, peaks):
    xs, ys = [], []
    for c, a, b, pk in zip(spike_chrom, spike_from_mb, spike_to_mb, peaks):
        if pk is None:
            continue
        ci = c - 1
        base = nearest_value(series, ci, (a + b) / 2)
        g0, g1 = offsets[ci] + a, offsets[ci] + b
        xs += [base, pk, pk, base, None]
        ys += [g0, g0, g1, g1, None]
    return xs, ys


RED, GREEN, GREY = "#FF0000", "#00EE00", "#A6A6A6"
FILLS = {RED: "rgba(255,0,0,0.35)", GREEN: "rgba(0,238,0,0.25)", GREY: "rgba(166,166,166,0.4)"}
GRID = "#C8C8C8"
FONT = "Liberation Sans, Arial, sans-serif"

# (series, spikes, colour, px of value 2, px of value 0, axis label)
panels = [
    (na_cr, na_cr_spike, RED, 41.0, 116.0, "CR"),
    (na_co, na_co_spike, RED, 165.0, 240.0, "CO"),
    (af_cr, af_cr_spike, GREEN, 321.5, 396.5, "CR"),
    (af_co, af_co_spike, GREEN, 445.5, 520.5, "CO"),
    (eu_cr, eu_cr_spike, GREY, 602.5, 677.5, "CR"),
    (eu_co, eu_co_spike, GREY, 726.5, 801.5, "CO"),
]
value_min = -0.235
y_bottom_px, y_top_px = 1550.5, 9.0
ydom = [(H - y_bottom_px) / H, (H - y_top_px) / H]

fig = go.Figure()
layout = dict(
    width=W, height=H, margin=dict(l=0, r=0, t=0, b=0),
    paper_bgcolor="white", plot_bgcolor="white", showlegend=False,
    font=dict(family=FONT, color="black"),
)
annotations = []

for k, (series, spikes, color, x2px, x0px, label) in enumerate(panels, start=1):
    xname = "x" if k == 1 else f"x{k}"
    yname = "y" if k == 1 else f"y{k}"
    unit = (x0px - x2px) / 2.0
    right_px = x0px - value_min * unit

    lx, ly = build_line(series)
    fig.add_trace(go.Scatter(x=lx, y=ly, mode="lines", xaxis=xname, yaxis=yname,
                             line=dict(color=color, width=1.6), connectgaps=False,
                             hoverinfo="skip"))
    sx, sy = build_spikes(series, spikes)
    fig.add_trace(go.Scatter(x=sx, y=sy, mode="lines", xaxis=xname, yaxis=yname,
                             fill="toself", fillcolor=FILLS[color],
                             line=dict(color=color, width=1.5), hoverinfo="skip"))
    fig.add_trace(go.Scatter(x=[0.0] * 22, y=centro_pos, mode="markers", xaxis=xname, yaxis=yname,
                             marker=dict(color="black", size=3.5), cliponaxis=False,
                             hoverinfo="skip"))

    layout["xaxis" if k == 1 else f"xaxis{k}"] = dict(
        domain=[x2px / W, right_px / W], range=[2.0, value_min], anchor=yname,
        tickmode="array", tickvals=[0, 1, 2], ticktext=["0", "1", "2"],
        ticks="outside", ticklen=8, tickwidth=1.3, tickcolor="black",
        showline=True, linecolor="black", linewidth=1.4,
        showgrid=True, gridcolor=GRID, gridwidth=1.5, zeroline=False,
        tickangle=180, tickfont=dict(size=16, color="black", family=FONT),
        ticklabelstandoff=2, fixedrange=True,
    )
    layout["yaxis" if k == 1 else f"yaxis{k}"] = dict(
        domain=ydom, range=[0.0, total_mb], anchor="free", position=x0px / W, side="right",
        showline=True, linecolor="black", linewidth=1.4,
        tickmode="array", tickvals=mids, ticktext=chrom_names, ticks="",
        tickangle=-90, tickfont=dict(size=20, color="black", family=FONT),
        ticklabelstandoff=7, showgrid=False, zeroline=False, fixedrange=True,
        minor=dict(tickmode="array", tickvals=list(offsets), ticks="outside", ticklen=8.5,
                   tickwidth=1.4, tickcolor="black", showgrid=True, gridcolor=GRID,
                   gridwidth=1.5),
    )
    annotations.append(dict(
        text=label, x=(x2px + unit) / W, y=(H - 1594) / H, xref="paper", yref="paper",
        xanchor="center", yanchor="middle", textangle=180, showarrow=False,
        font=dict(size=21, color="black", family=FONT)))

titles = [("(a) Native American", 23.0), ("(b) African", 303.0), ("(c) European", 585.0)]
for text, xpx in titles:
    annotations.append(dict(
        text=text, x=xpx / W, y=(H - 779.5) / H, xref="paper", yref="paper",
        xanchor="center", yanchor="middle", textangle=-90, showarrow=False,
        font=dict(size=24, color="black", family=FONT)))

layout["annotations"] = annotations
fig.update_layout(**layout)
fig.write_html("out.html")
